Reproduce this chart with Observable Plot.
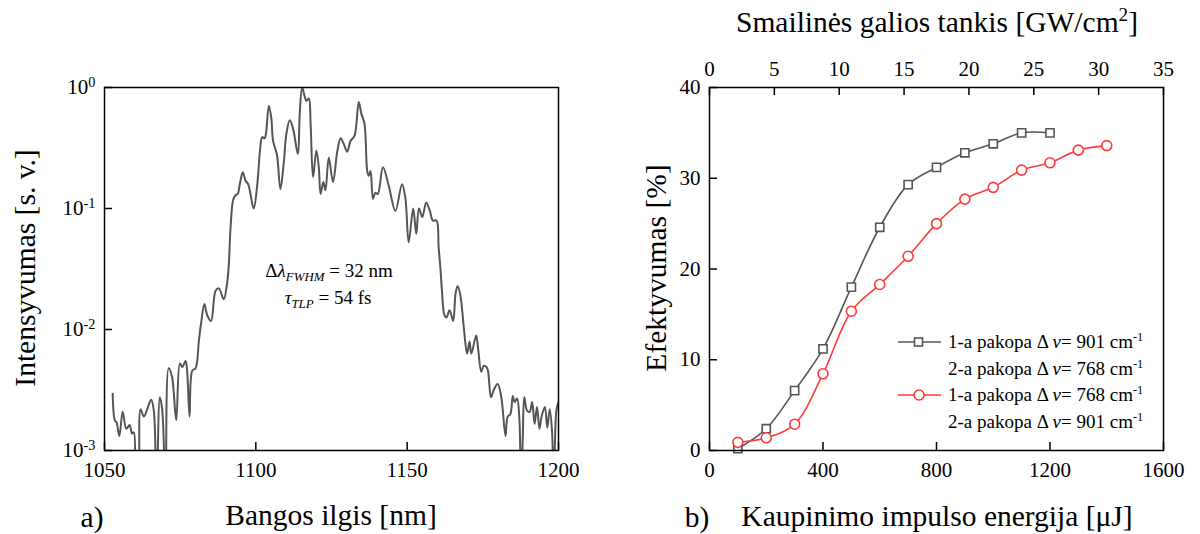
<!DOCTYPE html>
<html><head><meta charset="utf-8">
<script src="https://cdn.jsdelivr.net/npm/d3@7"></script>
<script src="https://cdn.jsdelivr.net/npm/@observablehq/plot@0.6"></script>
<style>
body{margin:0;background:#fff;font-family:"Liberation Serif",serif;}
#wrap{position:relative;width:1200px;height:534px;overflow:hidden;background:#fff;}
#wrap svg{position:absolute;top:0;}
.lbl{position:absolute;white-space:nowrap;color:#000;line-height:1;transform:translate(-50%,-50%);font-family:"Liberation Serif",serif;}
.rot{transform:translate(-50%,-50%) rotate(-90deg);}
.leg{position:absolute;left:897px;top:329px;font-family:"Liberation Serif",serif;font-size:19px;color:#000;}
.row{height:26.5px;display:flex;align-items:center;}
.row svg{position:static !important;margin-right:7px;}
.row .sp{display:inline-block;width:51px;}
sup{font-size:0.65em;vertical-align:0;position:relative;top:-0.55em;}
sub{font-size:0.68em;vertical-align:0;position:relative;top:0.3em;}
</style></head>
<body><div id="wrap"></div>
<script>
// ---- panel a: spectrum, [wavelength nm, log10(intensity)] ----
const spectrumPoints = [
[1052.7,-2.53],[1053.4,-2.75],[1054.0,-2.77],[1054.9,-2.88],[1056.0,-2.68],[1057.2,-2.82],[1058.3,-2.79],[1059.1,-2.86],[1059.7,-2.85],
[1060.5,-3.4],[1061.0,-3.4],[1061.9,-2.66],[1063.0,-2.72],[1064.1,-2.66],[1065.4,-2.58],[1066.3,-2.67],[1067.2,-3.4],[1068.3,-2.56],
[1069.1,-2.67],[1070.2,-3.4],[1071.2,-2.32],[1072.3,-2.39],[1073.7,-2.75],[1074.9,-2.28],[1075.7,-2.31],[1076.8,-2.26],[1077.3,-2.34],
[1078.1,-2.72],[1079.0,-2.34],[1080.1,-2.32],[1081.2,-2.09],[1081.9,-1.95],[1083.0,-1.79],[1083.9,-1.88],[1085.2,-1.93],[1086.7,-1.68],
[1087.8,-1.66],[1089.4,-1.75],[1090.5,-1.62],[1091.1,-1.45],[1091.6,-1.18],[1092.5,-0.93],[1093.3,-0.89],[1094.0,-0.88],[1094.7,-0.80],
[1095.7,-0.70],[1096.6,-0.77],[1097.5,-0.80],[1099.3,-1.00],[1100.4,-0.82],[1101.5,-0.49],[1102.1,-0.41],[1102.9,-0.42],[1103.4,-0.37],
[1104.3,-0.15],[1105.1,-0.25],[1105.7,-0.44],[1107.0,-0.56],[1108.1,-0.84],[1109.2,-0.63],[1110.1,-0.38],[1111.2,-0.27],[1112.3,-0.34],
[1113.9,-0.55],[1114.5,-0.22],[1115.3,0.0],[1116.1,-0.07],[1116.7,-0.11],[1117.5,-0.09],[1118.1,-0.30],[1118.9,-0.74],[1120.0,-0.52],
[1120.8,-0.66],[1121.4,-0.88],[1122.3,-0.78],[1123.0,-0.85],[1124.1,-0.58],[1125.5,-0.78],[1126.9,-0.53],[1128.0,-0.42],[1129.1,-0.47],
[1130.2,-0.53],[1131.3,-0.44],[1132.6,-0.40],[1134.0,-0.12],[1134.9,-0.22],[1135.9,-0.30],[1136.8,-0.69],[1137.3,-0.73],[1137.9,-0.69],
[1138.7,-0.92],[1139.5,-0.87],[1140.3,-0.88],[1142.0,-0.66],[1143.9,-0.81],[1146.1,-1.02],[1148.3,-0.80],[1149.4,-0.91],[1150.5,-1.28],
[1152.0,-1.00],[1153.0,-1.21],[1153.9,-1.00],[1155.0,-1.07],[1156.3,-0.95],[1157.5,-1.02],[1158.5,-1.10],[1159.7,-1.10],[1160.4,-1.32],
[1161.0,-1.50],[1161.5,-1.68],[1162.3,-1.88],[1163.0,-1.90],[1164.0,-1.84],[1165.2,-1.93],[1166.0,-1.70],[1166.7,-1.64],[1167.6,-1.72],
[1168.7,-1.98],[1169.8,-2.20],[1170.6,-2.10],[1171.2,-2.20],[1172.8,-2.05],[1173.4,-2.15],[1174.5,-2.35],[1175.3,-2.30],[1176.2,-2.31],
[1176.7,-2.34],[1177.7,-2.56],[1178.6,-2.50],[1179.9,-2.45],[1181.1,-2.56],[1182.5,-2.88],[1183.2,-2.72],[1184.1,-2.70],[1184.9,-2.55],
[1185.5,-2.60],[1186.3,-2.57],[1187.1,-2.75],[1187.6,-3.4],[1188.2,-2.89],[1188.7,-2.56],[1189.6,-2.67],[1190.5,-2.68],[1191.3,-2.60],
[1192.1,-2.78],[1192.9,-2.64],[1193.7,-2.82],[1194.4,-2.72],[1195.5,-2.64],[1196.3,-2.81],[1197.1,-2.66],[1197.9,-2.86],[1198.4,-3.4],
[1199.3,-2.67],[1200.0,-2.60]
];
const xTicksA = [1050, 1100, 1150, 1200];
const yTicksA = [1e-3, 1e-2, 1e-1, 1];

// ---- panel b: efficiency ----
const energy1 = [100,200,300,400,500,600,700,800,900,1000,1100,1200];
const eff1    = [0.2,2.4,6.6,11.2,18.0,24.6,29.3,31.2,32.8,33.8,35.0,35.0];
const energy2 = [100,200,300,400,500,600,700,800,900,1000,1100,1200,1300,1400];
const eff2    = [0.9,1.4,2.9,8.45,15.35,18.3,21.4,25.0,27.7,29.0,30.9,31.7,33.1,33.6];
const xTicksB = [0, 400, 800, 1200, 1600];
const yTicksB = [0, 10, 20, 30, 40];
const topTicks = [0, 5, 10, 15, 20, 25, 30, 35];   // GW/cm2, spans the same width as 0..1600 uJ
const topMax = 35, energyMax = 1600;

const gray = "#555555", red = "#ff3a3a";
const font = '"Liberation Serif", serif';
const wrap = document.getElementById("wrap");

const plotA = Plot.plot({
  width: 600, height: 534,
  marginLeft: 104, marginRight: 42, marginTop: 87, marginBottom: 84,
  style: {fontFamily: font, fontSize: "21px", background: "transparent", color: "#000", overflow: "visible"},
  x: {domain: [1050, 1200]},
  y: {type: "log", domain: [1e-3, 1]},
  marks: [
    Plot.line(spectrumPoints, {x: d => d[0], y: d => 10 ** d[1], curve: "catmull-rom", stroke: gray, strokeWidth: 2, clip: true}),
    Plot.tickX(xTicksA, {x: d => d, insetTop: 355, stroke: "#000", strokeWidth: 1.5}),
    Plot.tickY(yTicksA, {y: d => d, insetRight: 446, stroke: "#000", strokeWidth: 1.5}),
    Plot.axisX(xTicksA, {tickSize: 0, tickPadding: 12, label: null, tickFormat: d => String(d)}),
    Plot.axisY(yTicksA, {tickSize: 0, tickPadding: 9, label: null, tickFormat: d => "10^" + Math.round(Math.log10(d))}),
    Plot.frame({stroke: "#000", strokeWidth: 1.5})
  ]
});
plotA.style.left = "0px";
wrap.appendChild(plotA);
d3.select(plotA).selectAll('g[aria-label="y-axis tick label"] text').each(function () {
  const [b, e] = this.textContent.split("^");
  const s = d3.select(this);
  s.text(b);
  s.append("tspan").attr("dy", "-0.5em").attr("font-size", "0.68em").text(e);
});

const s1 = energy1.map((e, i) => ({e, v: eff1[i]}));
const s2 = energy2.map((e, i) => ({e, v: eff2[i]}));
const topPos = t => t / topMax * energyMax;

const plotB = Plot.plot({
  width: 600, height: 534,
  marginLeft: 109, marginRight: 37, marginTop: 87, marginBottom: 84,
  style: {fontFamily: font, fontSize: "21px", background: "transparent", color: "#000", overflow: "visible"},
  x: {domain: [0, energyMax]},
  y: {domain: [0, 40]},
  marks: [
    Plot.line(s1, {x: "e", y: "v", curve: "catmull-rom", stroke: gray, strokeWidth: 1.6}),
    Plot.line(s2, {x: "e", y: "v", curve: "catmull-rom", stroke: red, strokeWidth: 1.6}),
    Plot.dot(s1, {x: "e", y: "v", symbol: "square", r: 4.6, fill: "white", stroke: gray, strokeWidth: 1.6}),
    Plot.dot(s2, {x: "e", y: "v", symbol: "circle", r: 5, fill: "white", stroke: red, strokeWidth: 1.6}),
    Plot.tickX(xTicksB, {x: d => d, insetTop: 355, stroke: "#000", strokeWidth: 1.5}),
    Plot.tickX(topTicks, {x: topPos, insetBottom: 355, stroke: "#000", strokeWidth: 1.5}),
    Plot.tickY(yTicksB, {y: d => d, insetRight: 446, stroke: "#000", strokeWidth: 1.5}),
    Plot.axisX(xTicksB, {tickSize: 0, tickPadding: 12, label: null, tickFormat: d => String(d)}),
    Plot.axisX(topTicks.map(topPos), {anchor: "top", tickSize: 0, tickPadding: 12, label: null, tickFormat: d => String(Math.round(d / energyMax * topMax))}),
    Plot.axisY(yTicksB, {tickSize: 0, tickPadding: 9, label: null, tickFormat: d => String(d)}),
    Plot.frame({stroke: "#000", strokeWidth: 1.5})
  ]
});
plotB.style.left = "600px";
wrap.appendChild(plotB);

function addLabel(html, x, y, size, cls) {
  const d = document.createElement("div");
  d.className = "lbl" + (cls ? " " + cls : "");
  d.style.left = x + "px"; d.style.top = y + "px"; d.style.fontSize = size + "px";
  d.innerHTML = html;
  wrap.appendChild(d);
}
addLabel("Intensyvumas [s. v.]", 26, 268, 29.5, "rot");
addLabel("Bangos ilgis [nm]", 331, 516, 29.5);
addLabel("a)", 92, 518, 29.5);
addLabel("Efektyvumas [%]", 657, 268, 29.5, "rot");
addLabel("b)", 697, 518, 29.5);
addLabel("Kaupinimo impulso energija [μJ]", 937, 517, 29.5);
addLabel("Smailinės galios tankis [GW/cm<sup>2</sup>]", 937, 23, 29.5);
addLabel("Δ<i>λ</i><sub><i>FWHM</i></sub> = 32 nm", 329, 270, 19);
addLabel("<i>τ</i><sub><i>TLP</i></sub> = 54 fs", 328, 297, 19);

// legend
const legendRows = [
  {sym: "square", color: gray, text: "1-a pakopa Δ <i>ν</i>= 901 cm<sup>-1</sup>"},
  {sym: null, text: "2-a pakopa Δ <i>ν</i>= 768 cm<sup>-1</sup>"},
  {sym: "circle", color: red, text: "1-a pakopa Δ <i>ν</i>= 768 cm<sup>-1</sup>"},
  {sym: null, text: "2-a pakopa Δ <i>ν</i>= 901 cm<sup>-1</sup>"}
];
const leg = document.createElement("div");
leg.className = "leg";
for (const r of legendRows) {
  const row = document.createElement("div");
  row.className = "row";
  if (r.sym) {
    const sw = d3.create("svg").attr("width", 44).attr("height", 14);
    sw.append("line").attr("x1", 1).attr("x2", 44).attr("y1", 7).attr("y2", 7).attr("stroke", r.color).attr("stroke-width", 1.6);
    if (r.sym === "square") sw.append("rect").attr("x", 17.5).attr("y", 3).attr("width", 8).attr("height", 8).attr("fill", "white").attr("stroke", r.color).attr("stroke-width", 1.6);
    else sw.append("circle").attr("cx", 22).attr("cy", 7).attr("r", 5).attr("fill", "white").attr("stroke", r.color).attr("stroke-width", 1.6);
    row.appendChild(sw.node());
  } else {
    const sp = document.createElement("span"); sp.className = "sp"; row.appendChild(sp);
  }
  const t = document.createElement("span"); t.innerHTML = r.text; row.appendChild(t);
  leg.appendChild(row);
}
wrap.appendChild(leg);
</script></body></html>
